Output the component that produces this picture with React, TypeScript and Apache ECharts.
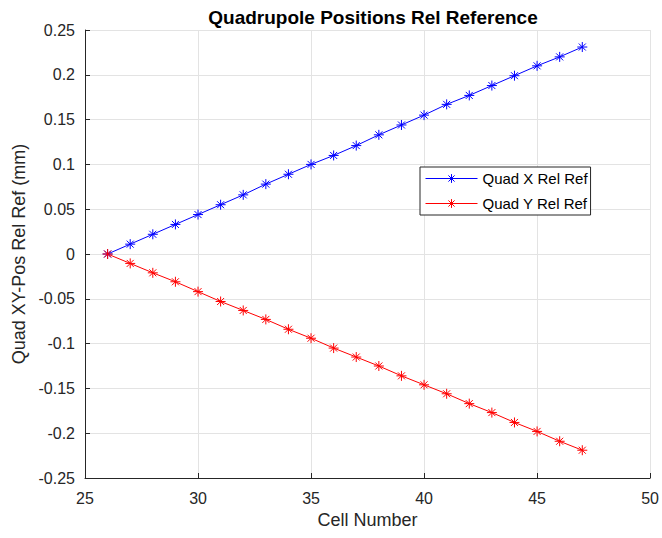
import React, { useEffect, useRef } from "react";
import * as echarts from "echarts";

// Cell numbers along the beamline
const cells = [26, 27, 28, 29, 30, 31, 32, 33, 34, 35, 36, 37, 38, 39, 40, 41, 42, 43, 44, 45, 46, 47];

// Quadrupole X offset relative to reference (mm)
const quadX = [
  0, 0.011, 0.022, 0.033, 0.044, 0.055, 0.066, 0.078, 0.089, 0.1, 0.11,
  0.121, 0.133, 0.144, 0.155, 0.167, 0.177, 0.188, 0.199, 0.21, 0.22, 0.231,
];

// Quadrupole Y offset relative to reference (mm)
const quadY = [
  0, -0.0105, -0.021, -0.031, -0.042, -0.053, -0.063, -0.073, -0.084, -0.094, -0.105,
  -0.115, -0.125, -0.136, -0.146, -0.156, -0.167, -0.177, -0.188, -0.198, -0.209, -0.219,
];

const seriesNames = ["Quad X Rel Ref", "Quad Y Rel Ref"];
const seriesColors = ["#0000ff", "#ff0000"];

const FONT = "'Liberation Sans', Arial, Helvetica, sans-serif";
const AXIS_COLOR = "#262626";
const GRID_COLOR = "#e3e3e3";

// Eight-armed asterisk marker (plus overlaid with a cross)
const ASTERISK = "path://M0,5L10,5M5,0L5,10M1.5,1.5L8.5,8.5M8.5,1.5L1.5,8.5";

function pairs(xs: number[], ys: number[]) {
  return xs.map((x, i) => [x, ys[i]]);
}

export default function App() {
  const ref = useRef<HTMLDivElement>(null);

  useEffect(() => {
    if (!ref.current) return;
    const chart = echarts.init(ref.current, null, { renderer: "svg" });

    const makeSeries = (name: string, ys: number[], color: string) => ({
      name,
      type: "line",
      data: pairs(cells, ys),
      symbol: ASTERISK,
      symbolSize: 10,
      showAllSymbol: true,
      lineStyle: { color, width: 1 },
      itemStyle: { color: "rgba(0,0,0,0)", borderColor: color, borderWidth: 1 },
      emphasis: { disabled: true },
    });

    chart.setOption({
      animation: false,
      backgroundColor: "#ffffff",
      textStyle: { fontFamily: FONT },
      title: {
        text: "Quadrupole Positions Rel Reference",
        left: 368,
        top: 3,
        textAlign: "center",
        textStyle: { fontFamily: FONT, fontSize: 19, fontWeight: "bold", color: "#000000" },
      },
      grid: { left: 85, right: 11, top: 30, bottom: 60 },
      legend: {
        orient: "vertical",
        left: 420,
        top: 167,
        data: seriesNames,
        itemWidth: 52,
        itemHeight: 11,
        itemGap: 10,
        padding: [4, 3, 4, 5],
        backgroundColor: "#ffffff",
        borderColor: AXIS_COLOR,
        borderWidth: 1,
        borderRadius: 0,
        lineStyle: { width: 1 },
        itemStyle: { borderWidth: 1 },
        textStyle: { fontFamily: FONT, fontSize: 15, color: "#000000" },
      },
      xAxis: {
        type: "value",
        min: 25,
        max: 50,
        interval: 5,
        name: "Cell Number",
        nameLocation: "middle",
        nameGap: 33,
        nameTextStyle: { fontFamily: FONT, fontSize: 18, color: AXIS_COLOR },
        axisLine: { show: true, onZero: false, lineStyle: { color: AXIS_COLOR, width: 1 } },
        axisTick: { show: true, inside: true, length: 5, lineStyle: { color: AXIS_COLOR } },
        axisLabel: { fontFamily: FONT, fontSize: 16, color: AXIS_COLOR, margin: 12 },
        splitLine: { show: true, lineStyle: { color: GRID_COLOR, width: 1 } },
      },
      yAxis: {
        type: "value",
        min: -0.25,
        max: 0.25,
        interval: 0.05,
        name: "Quad XY-Pos Rel Ref (mm)",
        nameLocation: "middle",
        nameRotate: 90,
        nameGap: 55,
        nameTextStyle: { fontFamily: FONT, fontSize: 18, color: AXIS_COLOR },
        axisLine: { show: true, onZero: false, lineStyle: { color: AXIS_COLOR, width: 1 } },
        axisTick: { show: true, inside: true, length: 5, lineStyle: { color: AXIS_COLOR } },
        axisLabel: {
          fontFamily: FONT,
          fontSize: 16,
          color: AXIS_COLOR,
          margin: 10,
          formatter: (v: number) => String(parseFloat(v.toFixed(2))),
        },
        splitLine: { show: true, lineStyle: { color: GRID_COLOR, width: 1 } },
      },
      series: [
        makeSeries(seriesNames[0], quadX, seriesColors[0]),
        makeSeries(seriesNames[1], quadY, seriesColors[1]),
      ],
    });

    return () => chart.dispose();
  }, []);

  return (
    <div
      ref={ref}
      style={{ position: "fixed", left: 0, top: 0, width: 662, height: 538, background: "#ffffff" }}
    />
  );
}
